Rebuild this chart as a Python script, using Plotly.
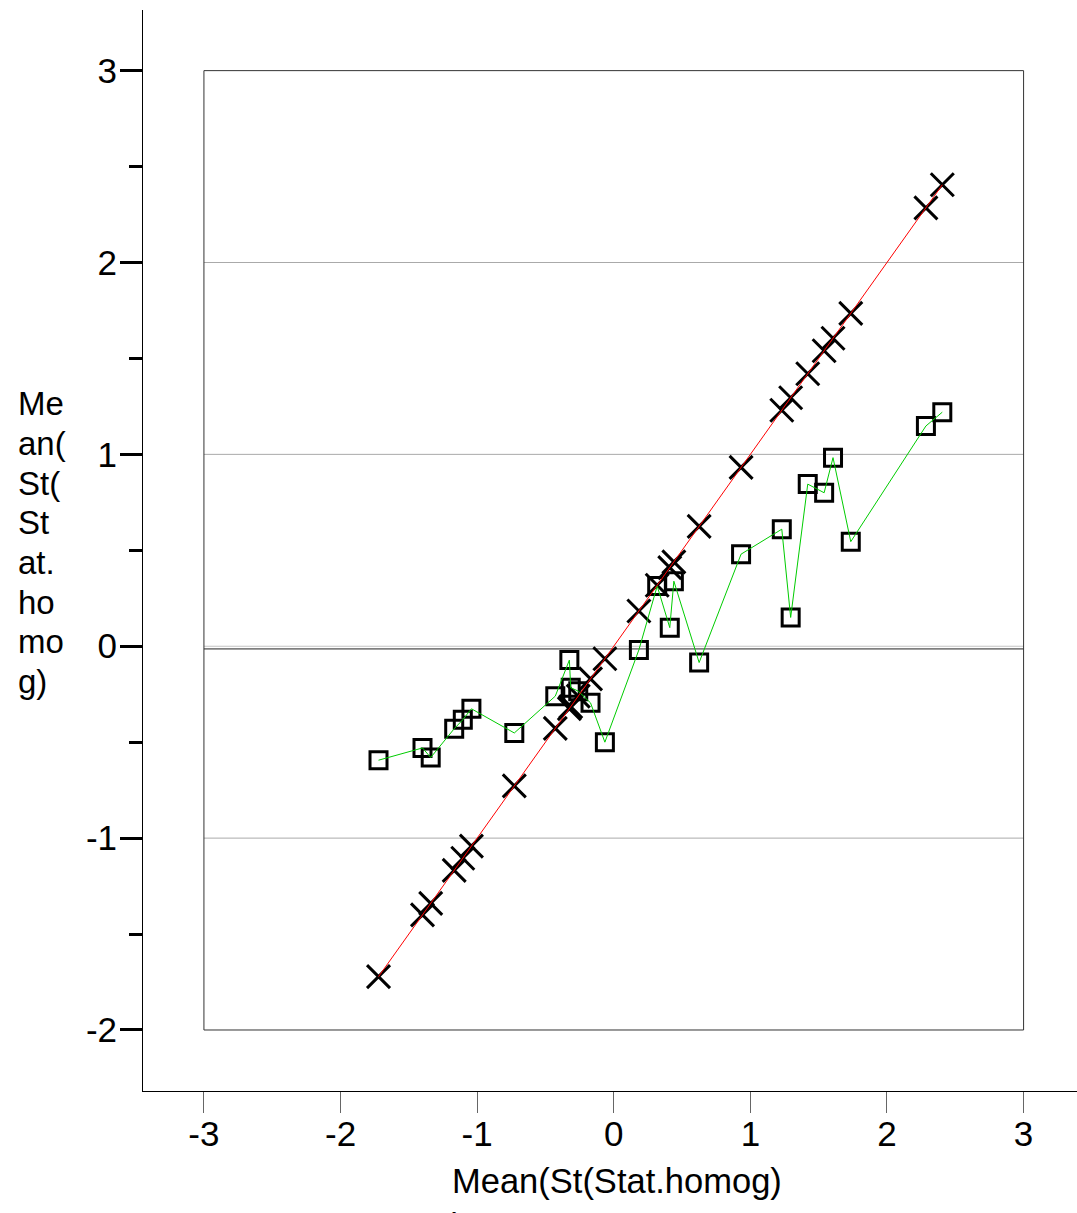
import plotly.graph_objects as go

# ---- data ----
x_mean = [-1.722, -1.40, -1.34, -1.168, -1.105, -1.042, -0.728, -0.428, -0.325,
          -0.315, -0.26, -0.17, -0.065, 0.184, 0.318, 0.41, 0.44, 0.625, 0.932,
          1.23, 1.295, 1.42, 1.54, 1.605, 1.735, 2.285, 2.405]
y_mean = [-0.594, -0.53, -0.58, -0.43, -0.383, -0.326, -0.452, -0.26, -0.072,
          -0.216, -0.234, -0.295, -0.50, -0.019, 0.314, 0.097, 0.339, -0.085,
          0.48, 0.61, 0.15, 0.845, 0.80, 0.983, 0.545, 1.148, 1.22]

x_ticks = [-3, -2, -1, 0, 1, 2, 3]
x_tick_text = ["-3", "-2", "-1", "0", "1", "2", "3"]
y_ticks = [-2, -1, 0, 1, 2, 3]
y_tick_text = ["-2", "-1", "0", "1", "2", "3"]
y_minor_ticks = [-1.5, -0.5, 0.5, 1.5, 2.5]
grid_y = [-1, 1, 2]
zero_grid_y = 0
ref_line_y = -0.014
frame_x = [-3, 3]
frame_y = [-2, 3]
y_title_lines = ["Me", "an(", "St(", "St", "at.", "ho", "mo", "g)"]
x_title = "Mean(St(Stat.homog)<br>)"

FONT = "Liberation Sans, Arial, sans-serif"
W, H = 1077, 1213
ML, MR, MT, MB = 143, 0, 10, 122
PW, PH = W - ML - MR, H - MT - MB

fig = go.Figure()
fig.add_trace(go.Scatter(
    x=x_mean, y=y_mean, mode="markers",
    marker=dict(symbol="square-open", size=17, color="black",
                line=dict(width=3, color="black")),
    hoverinfo="skip"))
fig.add_trace(go.Scatter(
    x=x_mean, y=x_mean, mode="markers",
    marker=dict(symbol="x-thin-open", size=23, color="black",
                line=dict(width=3, color="black")),
    hoverinfo="skip"))
fig.add_trace(go.Scatter(
    x=x_mean, y=y_mean, mode="lines",
    line=dict(color="#00cc00", width=1), hoverinfo="skip"))
fig.add_trace(go.Scatter(
    x=x_mean, y=x_mean, mode="lines",
    line=dict(color="#ff0000", width=1), hoverinfo="skip"))

shapes = []
for gy in grid_y:
    shapes.append(dict(type="line", xref="x", yref="y", x0=frame_x[0], x1=frame_x[1],
                       y0=gy, y1=gy, line=dict(color="#aaaaaa", width=1), layer="below"))
shapes.append(dict(type="line", xref="x", yref="y", x0=frame_x[0], x1=frame_x[1],
                   y0=zero_grid_y, y1=zero_grid_y, line=dict(color="#c4c4c4", width=1),
                   layer="below"))
shapes.append(dict(type="line", xref="x", yref="y", x0=frame_x[0], x1=frame_x[1],
                   y0=ref_line_y, y1=ref_line_y, line=dict(color="#222222", width=1),
                   layer="below"))
shapes.append(dict(type="rect", xref="x", yref="y", x0=frame_x[0], x1=frame_x[1],
                   y0=frame_y[0], y1=frame_y[1], line=dict(color="#333333", width=1),
                   layer="below"))

annotations = []
for i, t in enumerate(y_title_lines):
    py = 404 + 39.6 * i
    annotations.append(dict(text=t, xref="paper", yref="paper",
                            x=(16 - ML) / PW, y=1 - (py - MT) / PH,
                            xanchor="left", yanchor="middle", showarrow=False,
                            font=dict(family=FONT, size=33, color="black")))
annotations.append(dict(text=x_title, xref="paper", yref="paper",
                        x=(450 - ML) / PW, y=1 - (1160 - MT) / PH,
                        xanchor="left", yanchor="top", align="left", showarrow=False,
                        font=dict(family=FONT, size=34.5, color="black")))

fig.update_layout(
    width=W, height=H,
    margin=dict(l=ML, r=MR, t=MT, b=MB, pad=0),
    plot_bgcolor="white", paper_bgcolor="white",
    showlegend=False,
    shapes=shapes, annotations=annotations,
    xaxis=dict(range=[-3.446, 3.391], tickvals=x_ticks, ticktext=x_tick_text,
               ticks="outside", ticklen=21, tickwidth=1, tickcolor="#666666",
               showline=True, linecolor="black", linewidth=1,
               showgrid=False, zeroline=False, ticklabelstandoff=-9,
               tickfont=dict(family=FONT, size=35, color="black")),
    yaxis=dict(range=[-2.318, 3.316], tickvals=y_ticks, ticktext=y_tick_text,
               ticks="outside", ticklen=22, tickwidth=3, tickcolor="black",
               minor=dict(tickvals=y_minor_ticks, ticks="outside", ticklen=13,
                          tickwidth=3, tickcolor="black"),
               showline=True, linecolor="black", linewidth=1,
               showgrid=False, zeroline=False, ticklabelstandoff=-4,
               tickfont=dict(family=FONT, size=35, color="black")),
)

fig.write_html("out.html",
               config={"displayModeBar": False},
               post_script="document.body.style.margin='0';document.body.style.overflow='hidden';")
